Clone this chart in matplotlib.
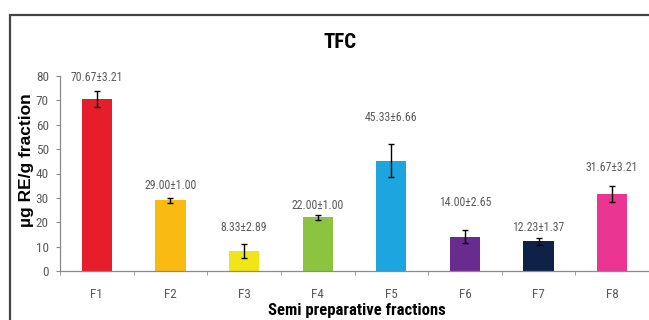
import matplotlib
matplotlib.use("Agg")
import matplotlib.pyplot as plt
from matplotlib.patches import Rectangle

# TFC content of the semi preparative fractions (mean ± SD)
fractions = ["F1", "F2", "F3", "F4", "F5", "F6", "F7", "F8"]
means = [70.67, 29.00, 8.33, 22.00, 45.33, 14.00, 12.23, 31.67]
sds = [3.21, 1.00, 2.89, 1.00, 6.66, 2.65, 1.37, 3.21]

colors = ["#E61E2B", "#F9BA12", "#F0E516", "#8DC43F",
          "#1CA5DF", "#6A2B8F", "#0E2147", "#EA3592"]

# height (data units) where each value label sits
label_y = [79.5, 35.2, 18.0, 27.0, 63.0, 28.2, 18.0, 42.6]

narrow = ["Roboto Condensed", "DejaVu Sans"]
grey = "#5a5a5a"

fig = plt.figure(figsize=(6.49, 3.20), dpi=100)

# outer frame around the chart
fig.patches.append(Rectangle((10 / 649, -0.1), 1.0, (320 - 15) / 320 + 0.1,
                             transform=fig.transFigure, fill=False,
                             edgecolor="#444444", linewidth=1.6))

ax = fig.add_axes([60 / 649, 49 / 320, 589 / 649, 195 / 320])
x = range(len(fractions))
ax.bar(x, means, width=0.41, color=colors, zorder=2)
ax.errorbar(x, means, yerr=sds, fmt="none", ecolor="black",
            elinewidth=1.0, capsize=2.0, capthick=1.0, zorder=3)

for i, (m, s) in enumerate(zip(means, sds)):
    ax.text(i, label_y[i], f"{m:.2f}±{s:.2f}", ha="center", va="center",
            fontsize=8.5, color=grey, family=narrow)

ax.set_xlim(-0.5, 7.46)
ax.set_ylim(0, 80)
ax.set_yticks(range(0, 81, 10))
ax.set_xticks(list(x))
ax.set_xticklabels(fractions)
ax.set_xticks([i + 0.5 for i in range(-1, 8)], minor=True)

for side in ["top", "right"]:
    ax.spines[side].set_visible(False)
for side in ["left", "bottom"]:
    ax.spines[side].set_color("#8a8a8a")
    ax.spines[side].set_linewidth(0.9)

ax.tick_params(axis="y", length=3, color="#8a8a8a", labelsize=9.5,
               labelcolor=grey, pad=5)
ax.tick_params(axis="x", which="major", length=0, labelsize=9.5,
               labelcolor=grey, pad=12)
ax.tick_params(axis="x", which="minor", length=3, color="#8a8a8a")
for lab in ax.get_xticklabels() + ax.get_yticklabels():
    lab.set_family(narrow)

fig.text(340 / 649, 1 - 43 / 320, "TFC", ha="center", va="center",
         fontsize=15, fontweight="bold", family=narrow)
fig.text(26 / 649, 1 - 160 / 320, "µg RE/g fraction", rotation=90,
         ha="center", va="center", fontsize=12.5, fontweight="bold",
         family=["Liberation Sans", "DejaVu Sans"])
fig.text(357 / 649, 1 - 311 / 320, "Semi preparative fractions",
         ha="center", va="center", fontsize=12, fontweight="bold",
         family=narrow)

fig.savefig("out.png", dpi=100)
